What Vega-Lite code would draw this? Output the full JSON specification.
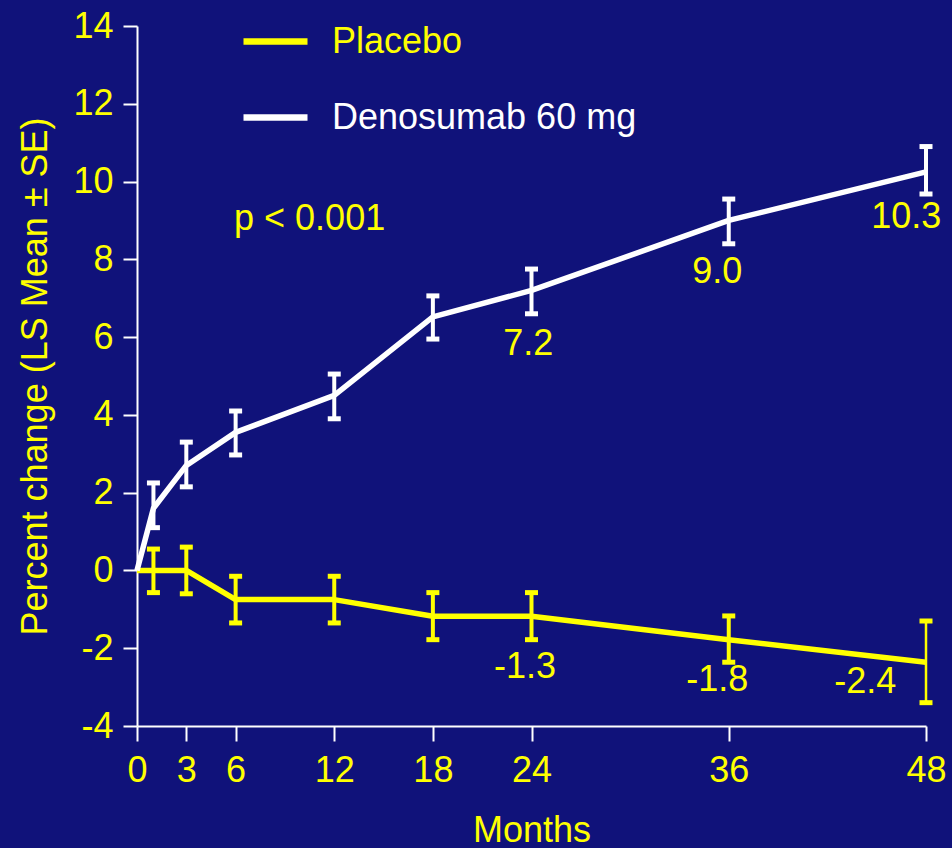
{
  "$schema": "https://vega.github.io/schema/vega-lite/v6.json",
  "width": 789,
  "height": 700,
  "autosize": {"type": "none"},
  "padding": {"left": 137, "top": 26, "right": 26, "bottom": 122},
  "background": "#10127a",
  "config": {
    "view": {"stroke": null},
    "font": "Liberation Sans",
    "axis": {
      "grid": false,
      "domainColor": "#ffffff",
      "domainWidth": 2,
      "tickColor": "#ffffff",
      "tickWidth": 2,
      "labelColor": "#ffff00",
      "labelFontSize": 36,
      "labelFont": "Liberation Sans",
      "titleColor": "#ffff00",
      "titleFontSize": 36,
      "titleFont": "Liberation Sans",
      "titleFontWeight": "normal",
      "labelExpr": "datum.value < 0 ? '-' + abs(datum.value) : '' + datum.value"
    }
  },
  "datasets": {
    "series": [
      {"series": "Placebo", "month": 0, "mean": 0, "lo": null, "hi": null},
      {"series": "Placebo", "month": 1, "mean": 0, "lo": -0.57, "hi": 0.55},
      {"series": "Placebo", "month": 3, "mean": 0, "lo": -0.6, "hi": 0.6},
      {"series": "Placebo", "month": 6, "mean": -0.75, "lo": -1.35, "hi": -0.15},
      {"series": "Placebo", "month": 12, "mean": -0.75, "lo": -1.35, "hi": -0.15},
      {"series": "Placebo", "month": 18, "mean": -1.18, "lo": -1.78, "hi": -0.57},
      {"series": "Placebo", "month": 24, "mean": -1.18, "lo": -1.78, "hi": -0.57},
      {"series": "Placebo", "month": 36, "mean": -1.78, "lo": -2.36, "hi": -1.17},
      {"series": "Placebo", "month": 48, "mean": -2.36, "lo": -3.4, "hi": -1.3},
      {"series": "Denosumab 60 mg", "month": 0, "mean": 0, "lo": null, "hi": null},
      {"series": "Denosumab 60 mg", "month": 1, "mean": 1.6, "lo": 1.1, "hi": 2.25},
      {"series": "Denosumab 60 mg", "month": 3, "mean": 2.7, "lo": 2.15, "hi": 3.3},
      {"series": "Denosumab 60 mg", "month": 6, "mean": 3.55, "lo": 2.97, "hi": 4.1},
      {"series": "Denosumab 60 mg", "month": 12, "mean": 4.5, "lo": 3.9, "hi": 5.05},
      {"series": "Denosumab 60 mg", "month": 18, "mean": 6.52, "lo": 5.95, "hi": 7.06},
      {"series": "Denosumab 60 mg", "month": 24, "mean": 7.2, "lo": 6.6, "hi": 7.75},
      {"series": "Denosumab 60 mg", "month": 36, "mean": 9.0, "lo": 8.4, "hi": 9.55},
      {"series": "Denosumab 60 mg", "month": 48, "mean": 10.25, "lo": 9.68, "hi": 10.9}
    ],
    "labels": [
      {"label": "10.3", "month": 46.8, "pos": 9.08},
      {"label": "9.0", "month": 35.3, "pos": 7.67},
      {"label": "7.2", "month": 23.8, "pos": 5.83},
      {"label": "-1.3", "month": 23.6, "pos": -2.48},
      {"label": "-1.8", "month": 35.3, "pos": -2.82},
      {"label": "-2.4", "month": 44.3, "pos": -2.88},
      {"label": "p < 0.001", "month": 10.5, "pos": 9.03}
    ]
  },
  "layer": [
    {
      "data": {"name": "series"},
      "mark": {"type": "line", "strokeWidth": 5.5, "strokeJoin": "round"},
      "encoding": {
        "x": {
          "field": "month", "type": "quantitative",
          "scale": {"domain": [0, 48], "nice": false, "zero": false},
          "axis": {"values": [0, 3, 6, 12, 18, 24, 36, 48], "title": "Months", "tickSize": 15, "labelPadding": 12, "titlePadding": 25, "labelFlush": false}
        },
        "y": {
          "field": "mean", "type": "quantitative",
          "scale": {"domain": [-4, 14], "nice": false},
          "axis": {"values": [-4, -2, 0, 2, 4, 6, 8, 10, 12, 14], "title": "Percent change (LS Mean ± SE)", "tickSize": 14, "labelPadding": 10, "titlePadding": 18}
        },
        "color": {
          "field": "series", "type": "nominal",
          "scale": {"domain": ["Placebo", "Denosumab 60 mg"], "range": ["#ffff00", "#ffffff"]},
          "legend": {
            "orient": "none", "legendX": 103, "legendY": -20, "title": null,
            "symbolType": "stroke", "symbolSize": 4096, "symbolStrokeWidth": 6.5,
            "labelFontSize": 36, "labelFont": "Liberation Sans", "labelOffset": 21, "rowPadding": 22, "padding": 0,
            "labelLimit": 500,
            "labelColor": "#ffff00",
            "encode": {"labels": {"update": {"fill": {"scale": "color", "field": "value"}}}}
          }
        }
      }
    },
    {
      "data": {"name": "series"},
      "transform": [{"filter": "datum.lo != null"}],
      "mark": {"type": "rule"},
      "encoding": {
        "x": {"field": "month", "type": "quantitative"},
        "y": {"field": "lo", "type": "quantitative"},
        "y2": {"field": "hi"},
        "color": {"field": "series", "type": "nominal"},
        "strokeWidth": {"condition": {"test": "datum.series == 'Placebo' && datum.month == 48", "value": 2.5}, "value": 4}
      }
    },
    {
      "data": {"name": "series"},
      "transform": [{"filter": "datum.lo != null"}],
      "mark": {"type": "tick", "orient": "horizontal", "size": 13, "thickness": 5},
      "encoding": {
        "x": {"field": "month", "type": "quantitative"},
        "y": {"field": "lo", "type": "quantitative"},
        "color": {"field": "series", "type": "nominal"},
        "opacity": {"value": 1}
      }
    },
    {
      "data": {"name": "series"},
      "transform": [{"filter": "datum.lo != null"}],
      "mark": {"type": "tick", "orient": "horizontal", "size": 13, "thickness": 5},
      "encoding": {
        "x": {"field": "month", "type": "quantitative"},
        "y": {"field": "hi", "type": "quantitative"},
        "color": {"field": "series", "type": "nominal"},
        "opacity": {"value": 1}
      }
    },
    {
      "data": {"name": "labels"},
      "mark": {"type": "text", "fontSize": 36, "font": "Liberation Sans", "align": "center", "baseline": "middle", "color": "#ffff00"},
      "encoding": {
        "x": {"field": "month", "type": "quantitative"},
        "y": {"field": "pos", "type": "quantitative"},
        "text": {"field": "label"}
      }
    }
  ]
}
